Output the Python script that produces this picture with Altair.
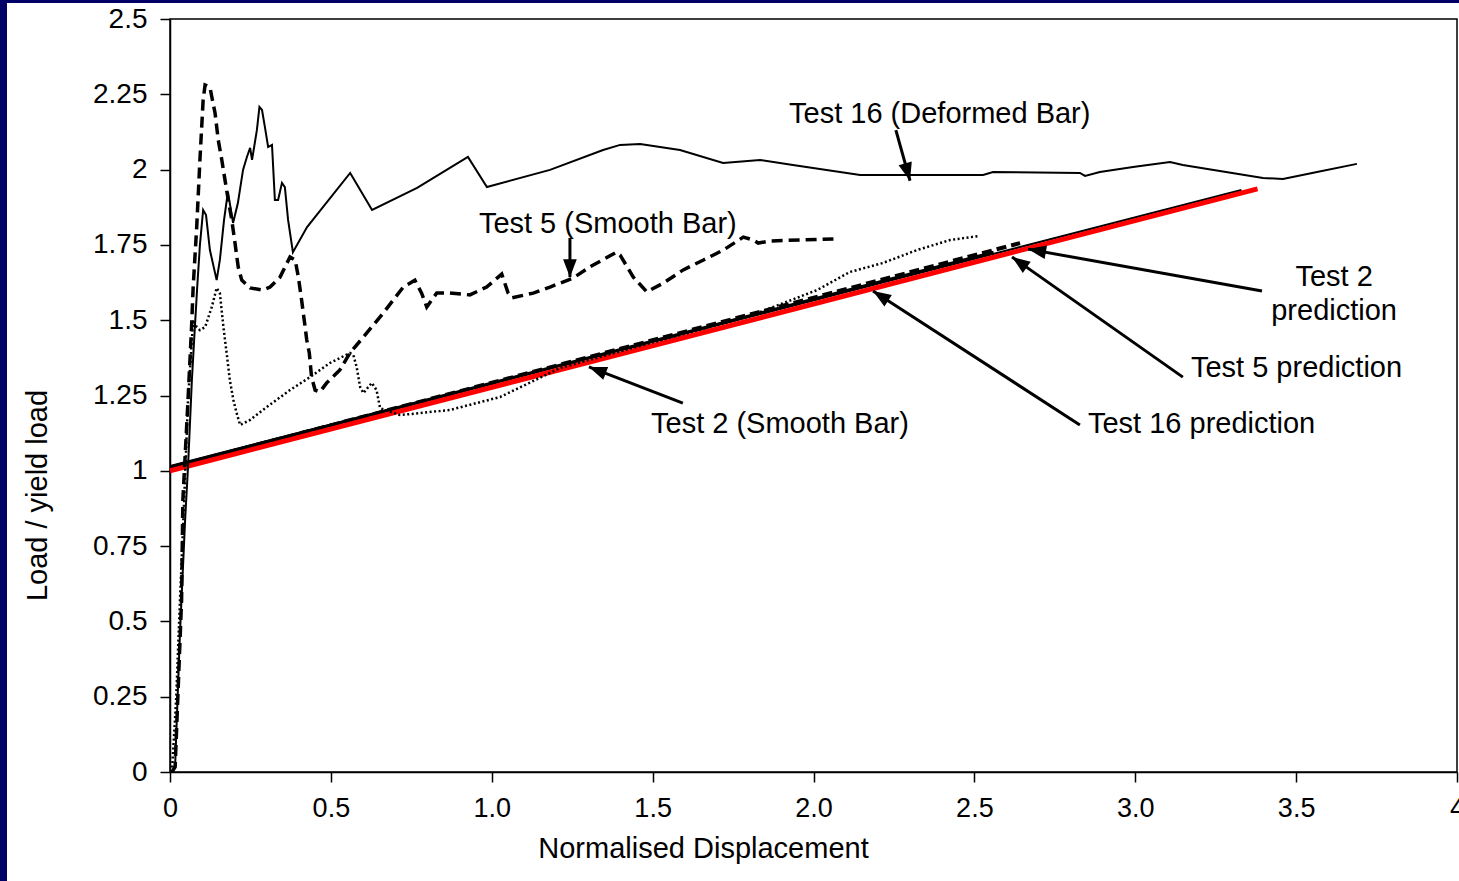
import math
import altair as alt
import pandas as pd

# ---- measured load-displacement curves -------------------------------------
# Test 16 (deformed bar)
t16_x = [0.006, 0.016, 0.031, 0.047, 0.056, 0.068, 0.075, 0.084, 0.093, 0.103,
         0.112, 0.124, 0.145, 0.155, 0.168, 0.180, 0.196, 0.211, 0.227, 0.239,
         0.249, 0.255, 0.270, 0.278, 0.286, 0.295, 0.305, 0.317, 0.326, 0.336,
         0.348, 0.357, 0.367, 0.382, 0.426, 0.476, 0.560, 0.628, 0.768, 0.926,
         0.985, 1.181, 1.346, 1.399, 1.461, 1.585, 1.719, 1.834, 1.936, 2.145,
         2.527, 2.558, 2.828, 2.844, 2.890, 2.993, 3.108, 3.148, 3.397, 3.459,
         3.565, 3.689]
t16_y = [0.000, 0.023, 0.461, 0.837, 1.013, 1.301, 1.434, 1.600, 1.750, 1.866,
         1.849, 1.733, 1.633, 1.700, 1.833, 1.926, 1.823, 1.889, 1.999, 2.042,
         2.072, 2.032, 2.131, 2.208, 2.198, 2.141, 2.075, 2.082, 1.899, 1.899,
         1.956, 1.942, 1.833, 1.726, 1.809, 1.876, 1.989, 1.866, 1.939, 2.042,
         1.942, 1.999, 2.065, 2.082, 2.085, 2.065, 2.022, 2.032, 2.015, 1.982,
         1.982, 1.992, 1.989, 1.979, 1.992, 2.009, 2.025, 2.015, 1.972, 1.969,
         1.992, 2.019]

# Test 5 (smooth bar)
t5_x = [0.006, 0.016, 0.036, 0.040, 0.056, 0.067, 0.072, 0.083, 0.093, 0.103,
        0.109, 0.124, 0.130, 0.140, 0.150, 0.161, 0.171, 0.181, 0.192, 0.202,
        0.212, 0.223, 0.249, 0.290, 0.311, 0.342, 0.373, 0.389, 0.399, 0.409,
        0.420, 0.425, 0.433, 0.440, 0.451, 0.466, 0.487, 0.528, 0.559, 0.601,
        0.663, 0.725, 0.761, 0.782, 0.798, 0.829, 0.870, 0.932, 0.984, 1.031,
        1.051, 1.062, 1.129, 1.181, 1.253, 1.305, 1.388, 1.399, 1.440, 1.482,
        1.533, 1.595, 1.658, 1.720, 1.782, 1.813, 1.828, 1.865, 2.062]
t5_y = [0.000, 0.017, 0.571, 0.903, 1.235, 1.477, 1.610, 1.809, 2.032, 2.231,
        2.281, 2.274, 2.241, 2.188, 2.098, 2.032, 1.965, 1.899, 1.833, 1.756,
        1.677, 1.633, 1.607, 1.600, 1.610, 1.643, 1.710, 1.700, 1.643, 1.567,
        1.477, 1.434, 1.391, 1.311, 1.268, 1.262, 1.292, 1.335, 1.391, 1.444,
        1.524, 1.610, 1.633, 1.590, 1.544, 1.590, 1.590, 1.584, 1.610, 1.653,
        1.590, 1.574, 1.590, 1.610, 1.640, 1.677, 1.726, 1.716, 1.643, 1.594,
        1.623, 1.667, 1.700, 1.733, 1.776, 1.766, 1.756, 1.763, 1.770]

# Test 2 (smooth bar)
t2_x = [0.006, 0.019, 0.031, 0.044, 0.056, 0.072, 0.083, 0.093, 0.109, 0.130,
        0.145, 0.155, 0.166, 0.176, 0.186, 0.197, 0.207, 0.218, 0.249, 0.301,
        0.373, 0.435, 0.497, 0.559, 0.570, 0.580, 0.591, 0.601, 0.627, 0.642,
        0.653, 0.715, 0.870, 1.026, 1.212, 1.492, 1.803, 2.011, 2.113, 2.216,
        2.322, 2.424, 2.517]
t2_y = [0.000, 0.239, 0.571, 0.903, 1.235, 1.501, 1.477, 1.467, 1.477, 1.544,
        1.607, 1.590, 1.477, 1.391, 1.301, 1.235, 1.192, 1.152, 1.169, 1.212,
        1.268, 1.311, 1.358, 1.391, 1.384, 1.345, 1.278, 1.258, 1.292, 1.268,
        1.208, 1.185, 1.202, 1.245, 1.341, 1.424, 1.514, 1.600, 1.660, 1.690,
        1.733, 1.766, 1.780]

# ---- predicted responses ---------------------------------------------------
pred16_x = [0.0, 2.56]
pred16_y = [1.012, 1.725]
pred5_x = [0.0, 2.642]
pred5_y = [1.010, 1.756]
pred2_x = [0.0, 3.33]
pred2_y = [1.016, 1.932]
model_x = [0.0, 3.38]
model_y = [1.000, 1.936]

# ---- axis ticks --------------------------------------------------------------
x_ticks = [0, 0.5, 1.0, 1.5, 2.0, 2.5, 3.0, 3.5, 4]
y_ticks = [0, 0.25, 0.5, 0.75, 1, 1.25, 1.5, 1.75, 2, 2.25, 2.5]

# ---- callouts ----------------------------------------------------------------
label_text = ["Test 16 (Deformed Bar)", "Test 5 (Smooth Bar)", "Test 2 (Smooth Bar)",
              "Test 16 prediction", "Test 5 prediction"]
label_x = [1.924, 0.960, 1.495, 2.853, 3.173]
label_y = [2.155, 1.790, 1.125, 1.125, 1.311]

center_text = ["Test 2", "prediction"]
center_x = [3.618, 3.618]
center_y = [1.614, 1.501]

arrow_x = [2.256, 1.243, 1.594, 3.394, 3.148, 2.828]
arrow_y = [2.131, 1.773, 1.225, 1.597, 1.311, 1.152]
arrow_tip_x = [2.300, 1.243, 1.302, 2.667, 2.617, 2.185]
arrow_tip_y = [1.963, 1.643, 1.345, 1.736, 1.710, 1.597]

W, H = 1287, 753
X_MAX, Y_MAX = 4.0, 2.5
FONT = "Liberation Sans"
NAVY = "#000066"


def series(name, xs, ys):
    return pd.DataFrame({"series": name, "x": xs, "y": ys, "step": range(len(xs))})


xs = alt.X("x:Q", scale=alt.Scale(domain=[0, X_MAX], nice=False, zero=False),
           axis=alt.Axis(values=x_ticks, title="Normalised Displacement",
                         labelExpr="datum.value == 0 || datum.value == 4 ? format(datum.value, 'd') : format(datum.value, '.1f')",
                         titleX=533, titleY=85, titleBaseline="alphabetic", titleAlign="center",
                         labelPadding=13, labelFlush=False, labelFontSize=27, grid=False))
ys = alt.Y("y:Q", scale=alt.Scale(domain=[0, Y_MAX], nice=False),
           axis=alt.Axis(values=y_ticks, title="Load / yield load",
                         labelExpr="'' + datum.value",
                         titleX=-133, titleY=476, titleAngle=270, titleAlign="center",
                         titleBaseline="middle", labelPadding=13, labelFlush=False,
                         labelFontSize=28, grid=False))


def line(df, width, dash=None, color="black"):
    kw = dict(color=color, strokeWidth=width, clip=True)
    if dash:
        kw["strokeDash"] = dash
    return alt.Chart(df).mark_line(**kw).encode(x=xs, y=ys, order="step:Q")


# navy frame strips at the page edge
strips = pd.DataFrame({"x1": [-170, -170], "x2": [1289, -163], "y1": [-19, -19], "y2": [-16, 862]})
frame = alt.Chart(strips).mark_rect(color=NAVY, clip=False).encode(
    x=alt.X("x1:Q", scale=None), x2="x2:Q", y=alt.Y("y1:Q", scale=None), y2="y2:Q")

layers = [
    frame,
    line(series("Test 16 prediction", pred16_x, pred16_y), 3.5),
    line(series("Test 5 prediction", pred5_x, pred5_y), 4, [10, 5]),
    line(series("Test 2 prediction", pred2_x, pred2_y), 2),
    line(series("Model", model_x, model_y), 5, color="#FF0000"),
    line(series("Test 2", t2_x, t2_y), 2.5, [2, 2.5]),
    line(series("Test 5", t5_x, t5_y), 3.5, [11, 6]),
    line(series("Test 16", t16_x, t16_y), 2),
]

# callout arrows
sx, sy = W / X_MAX, H / Y_MAX
angles = []
for x0, y0, x1, y1 in zip(arrow_x, arrow_y, arrow_tip_x, arrow_tip_y):
    dx = (x1 - x0) * sx
    dy = -(y1 - y0) * sy
    angles.append(math.degrees(math.atan2(dx, -dy)) % 360)
arrows = pd.DataFrame({"x": arrow_x, "y": arrow_y, "x2": arrow_tip_x, "y2": arrow_tip_y,
                       "angle": angles})
layers.append(alt.Chart(arrows).mark_rule(color="black", strokeWidth=3).encode(
    x=xs, y=ys, x2="x2:Q", y2="y2:Q"))
layers.append(alt.Chart(arrows).mark_point(
    shape="M0,0L-0.38,1L0.38,1Z", filled=True, color="black", opacity=1, size=1296,
    strokeWidth=0).encode(
    x=alt.X("x2:Q", scale=alt.Scale(domain=[0, X_MAX], nice=False, zero=False)),
    y=alt.Y("y2:Q", scale=alt.Scale(domain=[0, Y_MAX], nice=False)),
    angle=alt.Angle("angle:Q", scale=None)))

labels = pd.DataFrame({"text": label_text, "x": label_x, "y": label_y})
layers.append(alt.Chart(labels).mark_text(
    align="left", baseline="alphabetic", font=FONT, fontSize=29, color="black").encode(
    x=xs, y=ys, text="text:N"))
centered = pd.DataFrame({"text": center_text, "x": center_x, "y": center_y})
layers.append(alt.Chart(centered).mark_text(
    align="center", baseline="alphabetic", font=FONT, fontSize=29, color="black").encode(
    x=xs, y=ys, text="text:N"))

chart = alt.layer(*layers).properties(
    width=W, height=H,
    autosize=alt.AutoSizeParams(type="none"),
    padding={"left": 170, "top": 19, "right": 2, "bottom": 109},
    background="white",
).configure_view(stroke="black", strokeWidth=1.5).configure_axis(
    labelFont=FONT, labelColor="black",
    titleFont=FONT, titleFontSize=29, titleColor="black", titleFontWeight="normal",
    domainColor="black", domainWidth=1.5, tickColor="black", tickWidth=1.5, tickSize=10,
)

chart.save("out.html", embed_options={"renderer": "svg", "actions": False})
